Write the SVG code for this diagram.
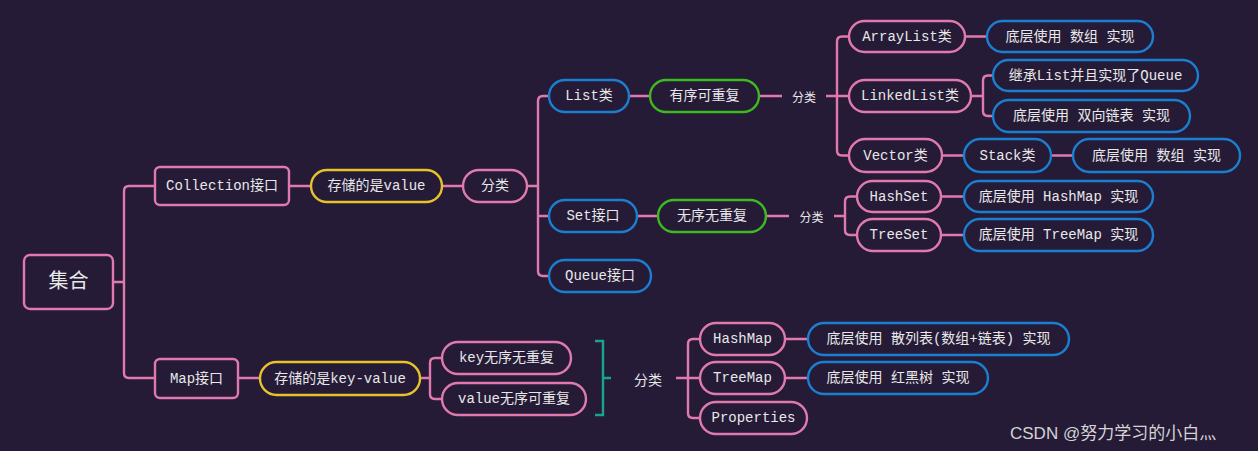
<svg xmlns="http://www.w3.org/2000/svg" width="1258" height="451" viewBox="0 0 1258 451">
<style>
.bg{fill:#251b37}
.n{fill:#251b37;stroke-width:2.4}
.pk{stroke:#e07aae}
.bl{stroke:#1a7fd0}
.gr{stroke:#3dba1f}
.yl{stroke:#e8c22a}
.t{font-family:"Liberation Mono","Noto Sans CJK SC",monospace;font-size:14px;fill:#e8e8e8;text-anchor:middle;dominant-baseline:central}
.s{font-family:"Noto Sans CJK SC",sans-serif;font-size:12px;fill:#e8e8e8;text-anchor:middle;dominant-baseline:central}
.c path{fill:none;stroke:#e07aae;stroke-width:2.4}
</style>
<rect class="bg" x="0" y="0" width="1258" height="451"/>
<g class="c" id="connectors">
<path d="M113,282 H124 M155,186 H129 Q124,186 124,191 V373 Q124,378 129,378 H155"/>
<path d="M289,186 H311 M442,186 H463 M527,186 H538"/>
<path d="M549,96 H543 Q538,96 538,101 V271 Q538,276 543,276 H549 M538,216 H549"/>
<path d="M629,96 H650 M759,96 H782 M826,96 H837"/>
<path d="M849,36.5 H842 Q837,36.5 837,41.5 V150.5 Q837,155.5 842,155.5 H849 M837,96 H849"/>
<path d="M965,36.5 H987 M971,96 H983 M993,75.5 H988 Q983,75.5 983,80.5 V111 Q983,116 988,116 H993"/>
<path d="M942,155.5 H964 M1051,155.5 H1073"/>
<path d="M637,216 H658 M766,216 H789 M834,216 H845"/>
<path d="M857,196.5 H850 Q845,196.5 845,201.5 V230 Q845,235 850,235 H857 M941,196.5 H964 M941,235 H964"/>
<path d="M238,378 H260 M420,378 H430 M442,358 H435 Q430,358 430,363 V394 Q430,399 435,399 H442"/>
<path d="M595,341 H603 V415 H595 M603,378 H611" style="stroke:#17a58f"/>
<path d="M676,378 H688 M700,339 H693 Q688,339 688,344 V413 Q688,418 693,418 H700 M688,378 H700"/>
<path d="M785,339 H808 M785,378 H808"/>
</g>
<g id="root"><rect class="n pk" x="24" y="255" width="89" height="54" rx="6"/><text class="t" x="68.5" y="282" style="font-size:20px">集合</text></g>
<g id="collection"><rect class="n pk" x="155" y="167" width="134" height="38" rx="5"/><text class="t" x="222" y="186">Collection接口</text></g>
<g id="store-value"><rect class="n yl" x="311" y="170" width="131" height="32" rx="16"/><text class="t" x="376.5" y="186">存储的是value</text></g>
<g id="classify1"><rect class="n pk" x="463" y="170" width="64" height="32" rx="16"/><text class="t" x="495" y="186">分类</text></g>
<g id="list"><rect class="n bl" x="549" y="80" width="80" height="32" rx="16"/><text class="t" x="589" y="96">List类</text></g>
<g id="ordered"><rect class="n gr" x="650" y="80" width="109" height="32" rx="16"/><text class="t" x="704.5" y="96">有序可重复</text></g>
<g id="label-list"><text class="s" x="804" y="96">分类</text></g>
<g id="set"><rect class="n bl" x="549" y="200" width="88" height="32" rx="16"/><text class="t" x="593" y="216">Set接口</text></g>
<g id="unordered"><rect class="n gr" x="658" y="200" width="108" height="32" rx="16"/><text class="t" x="712" y="216">无序无重复</text></g>
<g id="label-set"><text class="s" x="811.5" y="216">分类</text></g>
<g id="queue"><rect class="n bl" x="549" y="260" width="102" height="32" rx="16"/><text class="t" x="600" y="276">Queue接口</text></g>
<g id="arraylist"><rect class="n pk" x="849" y="21" width="116" height="31" rx="15.5"/><text class="t" x="907" y="36.5">ArrayList类</text></g>
<g id="arraylist-impl"><rect class="n bl" x="987" y="21" width="166" height="31" rx="15.5"/><text class="t" x="1070" y="36.5">底层使用 数组 实现</text></g>
<g id="linkedlist"><rect class="n pk" x="849" y="80" width="122" height="32" rx="16"/><text class="t" x="910" y="96">LinkedList类</text></g>
<g id="linkedlist-queue"><rect class="n bl" x="993" y="60" width="205" height="31" rx="15.5"/><text class="t" x="1095.5" y="75.5">继承List并且实现了Queue</text></g>
<g id="linkedlist-impl"><rect class="n bl" x="993" y="100" width="197" height="32" rx="16"/><text class="t" x="1091.5" y="116">底层使用 双向链表 实现</text></g>
<g id="vector"><rect class="n pk" x="849" y="139" width="93" height="33" rx="16.5"/><text class="t" x="895.5" y="155.5">Vector类</text></g>
<g id="stack"><rect class="n bl" x="964" y="139" width="87" height="33" rx="16.5"/><text class="t" x="1007.5" y="155.5">Stack类</text></g>
<g id="stack-impl"><rect class="n bl" x="1073" y="139" width="167" height="33" rx="16.5"/><text class="t" x="1156.5" y="155.5">底层使用 数组 实现</text></g>
<g id="hashset"><rect class="n pk" x="857" y="181" width="84" height="31" rx="15.5"/><text class="t" x="899" y="196.5">HashSet</text></g>
<g id="hashset-impl"><rect class="n bl" x="964" y="181" width="189" height="31" rx="15.5"/><text class="t" x="1058.5" y="196.5">底层使用 HashMap 实现</text></g>
<g id="treeset"><rect class="n pk" x="857" y="219" width="84" height="32" rx="16"/><text class="t" x="899" y="235">TreeSet</text></g>
<g id="treeset-impl"><rect class="n bl" x="964" y="219" width="189" height="32" rx="16"/><text class="t" x="1058.5" y="235">底层使用 TreeMap 实现</text></g>
<g id="map"><rect class="n pk" x="155" y="359" width="83" height="39" rx="5"/><text class="t" x="196.5" y="378.5">Map接口</text></g>
<g id="store-kv"><rect class="n yl" x="260" y="362" width="160" height="33" rx="16.5"/><text class="t" x="340" y="378.5">存储的是key-value</text></g>
<g id="key"><rect class="n pk" x="442" y="342" width="129" height="32" rx="16"/><text class="t" x="506.5" y="358">key无序无重复</text></g>
<g id="value"><rect class="n pk" x="442" y="383" width="144" height="32" rx="16"/><text class="t" x="514" y="399">value无序可重复</text></g>
<g id="label-map"><text class="s" x="648" y="378.5" style="font-size:14px">分类</text></g>
<g id="hashmap"><rect class="n pk" x="700" y="323" width="85" height="32" rx="16"/><text class="t" x="742.5" y="339">HashMap</text></g>
<g id="hashmap-impl"><rect class="n bl" x="808" y="323" width="261" height="32" rx="16"/><text class="t" x="938.5" y="339">底层使用 散列表(数组+链表) 实现</text></g>
<g id="treemap"><rect class="n pk" x="700" y="362" width="85" height="32" rx="16"/><text class="t" x="742.5" y="378">TreeMap</text></g>
<g id="treemap-impl"><rect class="n bl" x="808" y="362" width="180" height="32" rx="16"/><text class="t" x="898" y="378">底层使用 红黑树 实现</text></g>
<g id="properties"><rect class="n pk" x="700" y="402" width="107" height="32" rx="16"/><text class="t" x="753.5" y="418">Properties</text></g>
<text x="1010" y="439" style="font-family:'Liberation Sans','Noto Sans CJK SC',sans-serif;font-size:17px;fill:#d4d4d4">CSDN @努力学习的小白灬</text>
</svg>
